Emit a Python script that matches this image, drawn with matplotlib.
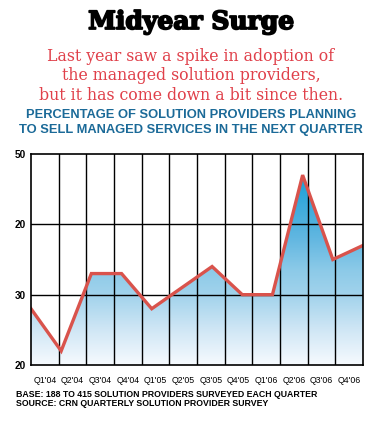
import numpy as np
import matplotlib
matplotlib.use("Agg")
import matplotlib.pyplot as plt
import matplotlib.patheffects as pe
from matplotlib.colors import LinearSegmentedColormap
from matplotlib.patches import Polygon

# ---- data ----
quarters = ["Q1'04", "Q2'04", "Q3'04", "Q4'04", "Q1'05", "Q2'05",
            "Q3'05", "Q4'05", "Q1'06", "Q2'06", "Q3'06", "Q4'06"]
values = [28, 22, 33, 33, 28, 31, 34, 30, 30, 47, 35, 37]
ytick_vals = [20, 30, 40, 50]
ytick_labels = ["20", "30", "20", "50"]

title = "Midyear Surge"
subtitle = ("Last year saw a spike in adoption of\n"
            "the managed solution providers,\n"
            "but it has come down a bit since then.")
heading = ("PERCENTAGE OF SOLUTION PROVIDERS PLANNING\n"
           "TO SELL MANAGED SERVICES IN THE NEXT QUARTER")
footnote = ("BASE: 188 TO 415 SOLUTION PROVIDERS SURVEYED EACH QUARTER\n"
            "SOURCE: CRN QUARTERLY SOLUTION PROVIDER SURVEY")

W, H = 385, 423
fig = plt.figure(figsize=(W / 100, H / 100), dpi=100)
fig.patch.set_facecolor("white")

ax = fig.add_axes([31 / W, 1 - 365 / H, (363 - 31) / W, (365 - 154) / H])
n = len(values)
x = np.arange(n)
ax.set_xlim(0, n - 1)
ax.set_ylim(20, 50)

# gradient fill under the line
cmap = LinearSegmentedColormap.from_list(
    "g", [(0.0, "#f6fafe"), (0.17, "#cfe6f5"), (0.33, "#a2d3ec"),
          (0.45, "#8ccae8"), (0.6, "#62b7e1"), (0.9, "#1a9fd6"), (1.0, "#0f97d2")])
grad = np.linspace(0, 1, 256).reshape(-1, 1)
im = ax.imshow(grad, extent=[0, n - 1, 20, 50], origin="lower", aspect="auto",
               cmap=cmap, zorder=1)
verts = [(0, 20)] + list(zip(x, values)) + [(n - 1, 20)]
poly = Polygon(verts, closed=True, facecolor="none", edgecolor="none")
ax.add_patch(poly)
im.set_clip_path(poly)

# grid: 12 cells horizontally
cell_edges = np.linspace(0, n - 1, len(quarters) + 1)
for xe in cell_edges[1:-1]:
    ax.axvline(xe, color="black", lw=1.0, zorder=2)
for yv in ytick_vals[1:-1]:
    ax.axhline(yv, color="black", lw=1.0, zorder=2)

ax.plot(x, values, color="#d9534c", lw=2.4, solid_joinstyle="miter", zorder=3)

for s in ax.spines.values():
    s.set_linewidth(1.2)
    s.set_color("black")
    s.set_zorder(4)

ax.set_yticks(ytick_vals)
ax.set_yticklabels(ytick_labels, fontsize=7.2, fontweight="bold",
                   family="Liberation Sans")
ax.tick_params(axis="y", length=0, pad=4)
centers = (cell_edges[:-1] + cell_edges[1:]) / 2
ax.set_xticks(centers)
ax.set_xticklabels(quarters, fontsize=6.3, family="Liberation Sans")
ax.tick_params(axis="x", length=0, pad=8)

fig.text(191 / W, 1 - 22 / H, title, ha="center", va="center",
         fontsize=18, fontweight="heavy", family="DejaVu Serif", color="black",
         path_effects=[pe.withStroke(linewidth=1.3, foreground="black")])
fig.text(191 / W, 1 - 76 / H, subtitle, ha="center", va="center",
         fontsize=11.3, family="DejaVu Serif", color="#e0404a",
         linespacing=1.2)
fig.text(191 / W, 1 - 122.5 / H, heading, ha="center", va="center",
         fontsize=9.3, fontweight="bold", family="Liberation Sans",
         color="#1b6a98", linespacing=1.25)
fig.text(16 / W, 1 - 399 / H, footnote, ha="left", va="center",
         fontsize=6.3, fontweight="bold", family="Liberation Sans",
         color="black", linespacing=0.9)

fig.savefig("out.png", dpi=100, facecolor="white")
